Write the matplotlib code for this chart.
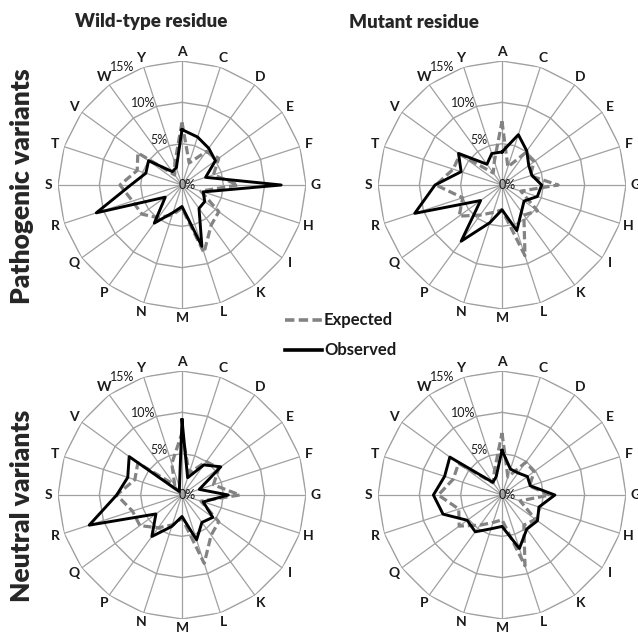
import numpy as np
import matplotlib.pyplot as plt

plt.rcParams['font.family'] = ['Lato', 'DejaVu Sans']

residues = ['A', 'C', 'D', 'E', 'F', 'G', 'H', 'I', 'K', 'L',
            'M', 'N', 'P', 'Q', 'R', 'S', 'T', 'V', 'W', 'Y']

# percentages per residue
wt_path_obs = [6.7, 6.1, 5.5, 5.0, 3.0, 12.0, 2.7, 3.4, 3.5, 7.8,
               2.6, 3.5, 5.7, 2.5, 10.9, 6.2, 4.6, 5.0, 2.0, 2.2]
wt_path_exp = [7.6, 2.8, 5.0, 5.5, 4.0, 6.8, 2.4, 5.5, 6.0, 8.6,
               2.8, 3.8, 4.9, 6.0, 6.3, 7.5, 5.7, 6.6, 1.5, 2.8]
mut_path_obs = [4.0, 6.4, 5.1, 4.0, 3.8, 4.8, 4.5, 3.3, 4.0, 5.8,
                3.0, 4.8, 8.4, 3.2, 11.1, 8.1, 5.2, 6.5, 3.1, 4.0]
mut_path_exp = [7.7, 2.3, 4.8, 4.8, 3.6, 6.8, 2.4, 5.3, 4.5, 9.0,
                3.0, 3.5, 4.5, 6.4, 5.0, 8.0, 6.2, 6.3, 1.8, 3.0]
wt_neut_obs = [9.1, 2.2, 4.5, 5.8, 2.2, 5.6, 2.7, 4.6, 4.1, 5.7,
               2.6, 4.0, 6.2, 3.9, 11.8, 7.9, 6.9, 7.9, 0.5, 1.0]
wt_neut_exp = [7.5, 2.8, 5.0, 5.5, 4.0, 7.0, 2.4, 5.5, 6.0, 8.7,
               2.8, 3.8, 4.9, 6.3, 6.3, 7.9, 6.0, 6.6, 1.5, 4.0]
mut_neut_obs = [5.4, 3.3, 3.3, 3.8, 3.6, 6.4, 4.7, 5.3, 5.1, 6.8,
                3.8, 4.3, 5.5, 5.2, 7.5, 8.3, 7.3, 7.8, 1.9, 2.3]
mut_neut_exp = [7.5, 2.3, 4.9, 4.8, 3.5, 5.8, 2.3, 5.0, 4.5, 9.0,
                3.0, 3.5, 4.5, 6.4, 5.5, 7.7, 6.2, 6.5, 1.8, 3.0]

col_titles = ['Wild-type residue', 'Mutant residue']
row_titles = ['Pathogenic variants', 'Neutral variants']
rings = [5, 10, 15]
ring_labels = ['0%', '5%', '10%', '15%']
# pixel offsets of the scale labels from the centre of each radar
ring_label_pos = [(5, 0), (-23, 45), (-39, 82), (-60, 118)]

W, H = 638, 634
R = 124
centers = [(182, 185), (502, 185), (182, 495), (502, 495)]
panels = [(wt_path_obs, wt_path_exp), (mut_path_obs, mut_path_exp),
          (wt_neut_obs, wt_neut_exp), (mut_neut_obs, mut_neut_exp)]

grid_col = '#a0a0a0'
exp_col = '#838383'
txt_col = '#1a1a1a'

fig = plt.figure(figsize=(W / 100, H / 100), dpi=100)

n = len(residues)
theta = np.arange(n) * 2 * np.pi / n
theta_c = np.append(theta, theta[0])

for (cx, cy), (obs, exp) in zip(centers, panels):
    ax = fig.add_axes([(cx - R) / W, 1 - (cy + R) / H, 2 * R / W, 2 * R / H],
                      projection='polar')
    ax.set_theta_zero_location('N')
    ax.set_theta_direction(-1)
    ax.set_ylim(0, 15)
    ax.grid(False)
    ax.spines['polar'].set_visible(False)
    ax.set_xticks([])
    ax.set_yticks([])
    ax.patch.set_alpha(0)

    for r in rings:
        ax.plot(theta_c, [r] * (n + 1), color=grid_col, lw=1.0, zorder=1)
    for t in theta:
        ax.plot([t, t], [0, 15], color=grid_col, lw=0.9, zorder=1)

    ax.plot(theta_c, list(exp) + [exp[0]], color=exp_col, lw=2.3,
            dashes=(2.6, 1.2), zorder=3)
    ax.plot(theta_c, list(obs) + [obs[0]], color='black', lw=2.1, zorder=4)

    for t, lab in zip(theta, residues):
        ax.text(t, 16.1, lab, ha='center', va='center', fontsize=10,
                fontweight='bold', color=txt_col, clip_on=False)
    for (dx, dy), lab in zip(ring_label_pos, ring_labels):
        ax.annotate(lab, xy=(0, 0), xytext=(dx, dy), textcoords='offset pixels',
                    ha='center', va='center', fontsize=9, color=txt_col,
                    annotation_clip=False, zorder=5)

for x, t in zip([151, 414], col_titles):
    fig.text(x / W, 1 - 22 / H, t, ha='center', va='center', fontsize=13.5,
             fontweight='heavy', color='#262626')
for y, t in zip([186, 506], row_titles):
    fig.text(22 / W, 1 - y / H, t, ha='center', va='center', fontsize=19,
             fontweight='heavy', color='#262626', rotation=90)

# legend
lx0, lx1 = 285 / W, 322 / W
for y, lab, c, kw in [(320, 'Expected', exp_col, dict(dashes=(2.6, 1.2))),
                      (350, 'Observed', 'black', {})]:
    yy = 1 - y / H
    fig.add_artist(plt.Line2D([lx0, lx1], [yy, yy], color=c, lw=2.6, **kw))
    fig.text(324 / W, yy, lab, ha='left', va='center', fontsize=12,
             fontweight='bold', color=txt_col)

fig.savefig('out.png', dpi=100)
